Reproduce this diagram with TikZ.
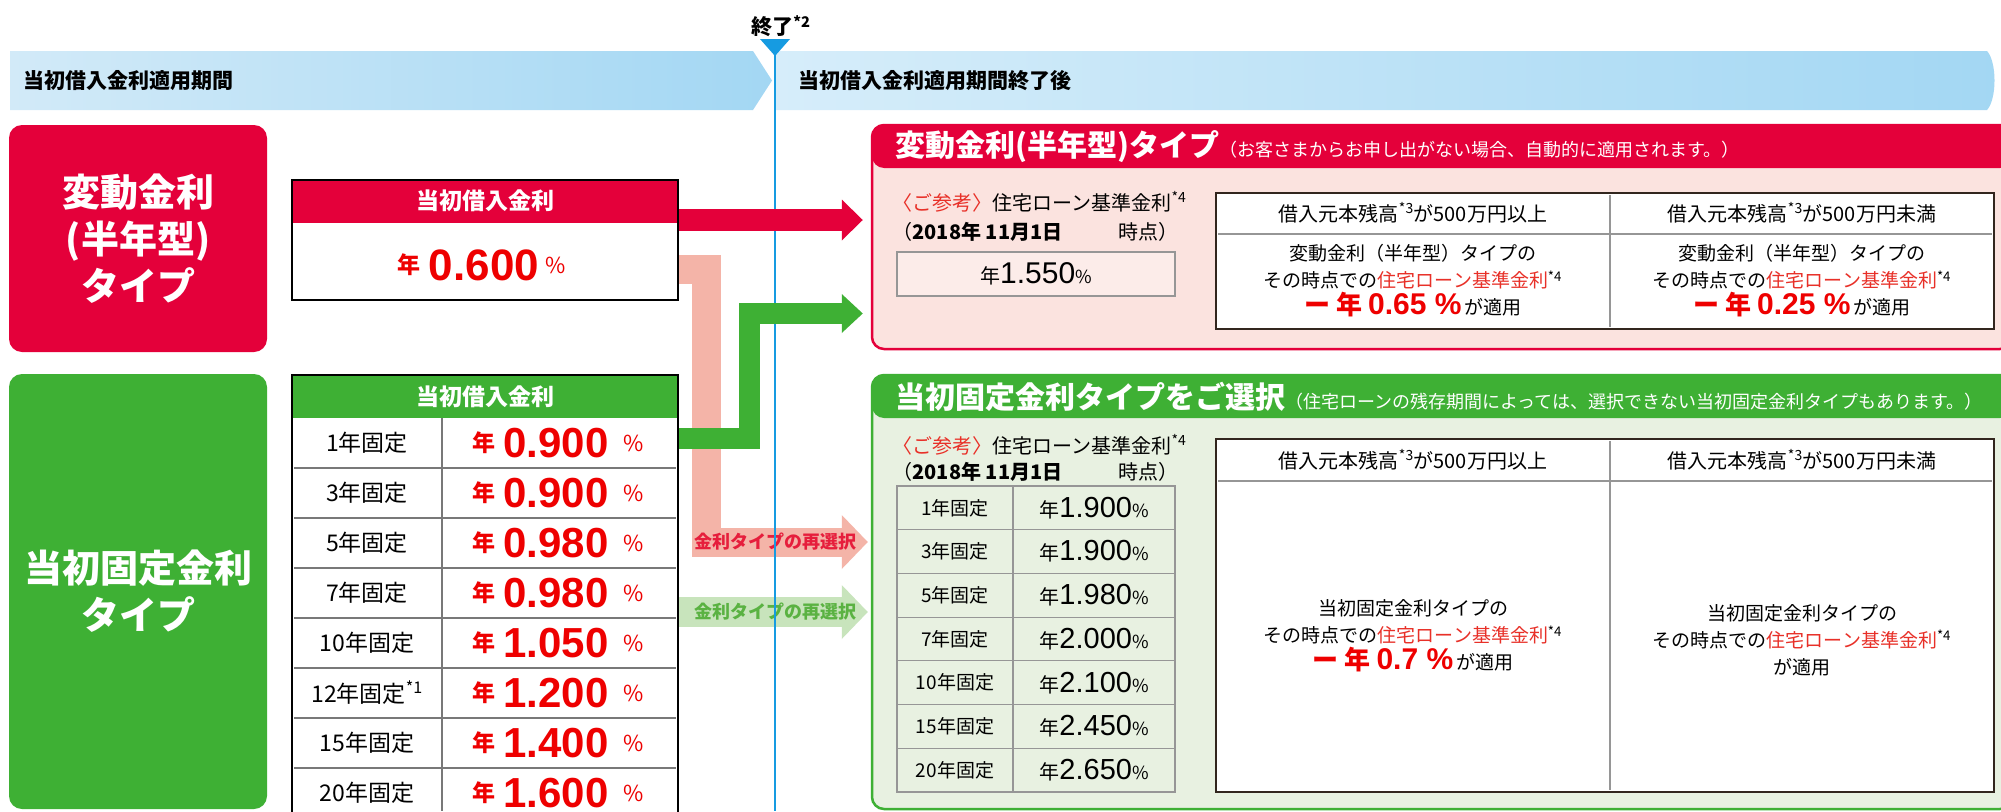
\documentclass[tikz,border=0pt]{standalone}
\usepackage{fontspec}
\setmainfont{Noto Sans CJK JP}
\newfontfamily\numfont{Liberation Sans}
\usetikzlibrary{arrows.meta,positioning}

\definecolor{crim}{RGB}{228,0,58}
\definecolor{vred}{RGB}{238,0,0}
\definecolor{tagred}{RGB}{232,48,40}
\definecolor{leaf}{RGB}{62,176,52}
\definecolor{salmon}{RGB}{244,180,168}
\definecolor{mint}{RGB}{200,228,188}
\definecolor{pinktxt}{RGB}{230,30,60}
\definecolor{minttxt}{RGB}{90,178,66}
\definecolor{skyA}{RGB}{210,234,248}
\definecolor{skyB}{RGB}{163,215,243}
\definecolor{skyC}{RGB}{214,237,250}
\definecolor{skyline}{RGB}{22,155,225}
\definecolor{blush}{RGB}{251,227,223}
\definecolor{blushlite}{RGB}{252,236,233}
\definecolor{sage}{RGB}{232,241,225}
\definecolor{grid}{RGB}{150,150,150}
\definecolor{ink}{RGB}{50,38,30}

\newcommand{\fsz}[1]{\fontsize{#1}{#1}\selectfont}

\tikzset{
  typebox/.style={rounded corners=13pt, inner sep=0pt, text=white, align=center,
    font=\bfseries\fontsize{38}{47}\selectfont},
  ratetbl/.style={draw=black, line width=2.5pt, fill=white, inner sep=0pt,
    path picture={\fill[#1] (path picture bounding box.north west)
      rectangle ([yshift=-43pt]path picture bounding box.north east);}},
  panel/.style 2 args={draw=#1, fill=#2, line width=2.5pt, rounded corners=12pt, inner sep=0pt,
    path picture={\fill[#1] (path picture bounding box.north west)
      rectangle ([yshift=-43pt]path picture bounding box.north east);}},
  thead/.style={text=white, font=\bfseries\fsz{23}},
  cell/.style={font=\fsz{23}},
  nen/.style={text=vred, font=\bfseries\fsz{23}},
  bignum/.style={text=vred, font=\numfont\bfseries\fsz{42}},
  pct/.style={text=vred, font=\fsz{22}},
  rowline/.style={draw=grid!80!black, line width=1.8pt},
  gridln/.style={draw=grid, line width=1.2pt},
  smalltxt/.style={font=\fsz{20}},
  cellbody/.style={font=\fontsize{19}{27}\selectfont, align=center},
  reseltxt/.style={font=\bfseries\fsz{18}},
}

\begin{document}
\begin{tikzpicture}[x=1pt, y=-1pt]
\clip (0,0) rectangle (2001,811);
\fill[white] (0,0) rectangle (2001,811);

% period bands
\shade[left color=skyA, right color=skyB] (10,51) -- (753,51) -- (772,80.5) -- (753,110) -- (10,110) -- cycle;
\shade[left color=skyC, right color=skyB] (776,51) -- (1987,51) .. controls (1997,62) and (1997,99) .. (1987,110) -- (776,110) -- cycle;
\node[anchor=west, font=\bfseries\fsz{21}] (phaseA) at (20,81) {当初借入金利適用期間};
\node[anchor=west, font=\bfseries\fsz{21}] (phaseB) at (795,81) {当初借入金利適用期間終了後};

% left side
\node[typebox, fill=crim, minimum width=258pt, minimum height=227pt] (floattype) at (138,238.5) {変動金利\\(半年型)\\タイプ};
\node[typebox, fill=leaf, minimum width=258pt, minimum height=435pt] (fixtype) at (138,591.5) {当初固定金利\\タイプ};

\node[ratetbl=crim, minimum width=386pt, minimum height=120pt] (ratebox) at (485,240) {};
\node[thead] (ratehead) at (485,201) {当初借入金利};
\node[nen] (ratenen) at (409,265) {年};
\node[bignum, font=\numfont\bfseries\fsz{44}] (rateval) at (484,265) {0.600};
\node[pct] (ratepct) at (556,265) {\%};

\node[ratetbl=leaf, minimum width=386pt, minimum height=438pt] (fixtbl) at (485,594) {};
\node[thead] (fixhead) at (485,397) {当初借入金利};
\draw[rowline] (442,418) -- (442,811);
\foreach \i in {1,...,7} \draw[rowline] (294,{418+50*\i}) -- (676,{418+50*\i});
\foreach \yr/\rt [count=\i] in {1年固定/0.900, 3年固定/0.900, 5年固定/0.980, 7年固定/0.980,
    10年固定/1.050, 12年固定\textsuperscript{*1}/1.200, 15年固定/1.400, 20年固定/1.600}{
  \pgfmathsetmacro\yc{393+50*\i}
  \node[cell] (term\i) at (367,\yc) {\yr};
  \node[nen] (nen\i) at (484,\yc) {年};
  \node[bignum] (rate\i) at (556,\yc) {\rt};
  \node[pct] (pct\i) at (634,\yc) {\%};
}

% right side: floating rate
\node[panel={crim}{blush}, minimum width=1140pt, minimum height=224pt] (floatpanel) at (1442,237) {};
\node[anchor=west, text=white, inner sep=0pt] (floattitle) at (895,147)
  {{\bfseries\fsz{30}変動金利(半年型)タイプ}{\fsz{18}（お客さまからお申し出がない場合、自動的に適用されます。）}};
\node[smalltxt, anchor=west] (floatref) at (889,202) {\textcolor{tagred}{〈ご参考〉}住宅ローン基準金利\textsuperscript{*4}};
\node[smalltxt, anchor=west] (floatdate) at (889,232) {（\textbf{2018年 11月1日}};
\node[smalltxt, anchor=east] (floatat) at (1182,232) {時点）};
\node[draw=grid, line width=1.2pt, fill=blushlite, minimum width=278pt, minimum height=44pt] (floatbase) at (1036,274)
  {{\fsz{20}年}{\numfont\fsz{30}1.550}{\fsz{18}\%}};
\node[draw=ink, line width=2.5pt, fill=white, minimum width=778pt, minimum height=136pt] (floattbl) at (1605,261) {};
\draw[gridln] (1610,195) -- (1610,327);
\draw[gridln] (1218,234) -- (1992,234);
\node[font=\fsz{20}] (floatcolA) at (1413,213) {借入元本残高\textsuperscript{*3}が500万円以上};
\node[font=\fsz{20}] (floatcolB) at (1802,213) {借入元本残高\textsuperscript{*3}が500万円未満};
\node[cellbody] (floatbodyA) at (1413,281) {変動金利（半年型）タイプの\\その時点での\textcolor{tagred}{住宅ローン基準金利}\textsuperscript{*4}\\
  {\color{vred}\bfseries{\fsz{26}ー 年 }{\numfont\fsz{30}0.65 \%}}\,{\fsz{19}が適用}};
\node[cellbody] (floatbodyB) at (1802,281) {変動金利（半年型）タイプの\\その時点での\textcolor{tagred}{住宅ローン基準金利}\textsuperscript{*4}\\
  {\color{vred}\bfseries{\fsz{26}ー 年 }{\numfont\fsz{30}0.25 \%}}\,{\fsz{19}が適用}};

% right side: fixed rate
\node[panel={leaf}{sage}, minimum width=1140pt, minimum height=434pt] (fixpanel) at (1442,592) {};
\node[anchor=west, text=white, inner sep=0pt] (fixtitle) at (895,397)
  {{\bfseries\fsz{30}当初固定金利タイプをご選択}{\fsz{18}（住宅ローンの残存期間によっては、選択できない当初固定金利タイプもあります。）}};
\node[smalltxt, anchor=west] (fixref) at (889,445) {\textcolor{tagred}{〈ご参考〉}住宅ローン基準金利\textsuperscript{*4}};
\node[smalltxt, anchor=west] (fixdate) at (889,472) {（\textbf{2018年 11月1日}};
\node[smalltxt, anchor=east] (fixat) at (1182,472) {時点）};
\node[gridln, minimum width=278pt, minimum height=306pt] (fixbase) at (1036,639) {};
\draw[gridln] (1013,486) -- (1013,792);
\foreach \i in {1,...,6} \draw[gridln] (897,{486+43.714*\i}) -- (1175,{486+43.714*\i});
\foreach \yr/\rt [count=\i] in {1年固定/1.900, 3年固定/1.900, 5年固定/1.980, 7年固定/2.000,
    10年固定/2.100, 15年固定/2.450, 20年固定/2.650}{
  \pgfmathsetmacro\yc{486+43.714*(\i-0.5)}
  \node[font=\fsz{19}] (bterm\i) at (955,\yc) {\yr};
  \node (brate\i) at (1094,\yc) {{\fsz{20}年}{\numfont\fsz{29}\rt}{\fsz{18}\%}};
}
\node[draw=ink, line width=2.5pt, fill=white, minimum width=778pt, minimum height=353pt] (fixtblR) at (1605,615.5) {};
\draw[gridln] (1610,441) -- (1610,790);
\draw[gridln] (1218,481) -- (1992,481);
\node[font=\fsz{20}] (fixcolA) at (1413,460) {借入元本残高\textsuperscript{*3}が500万円以上};
\node[font=\fsz{20}] (fixcolB) at (1802,460) {借入元本残高\textsuperscript{*3}が500万円未満};
\node[cellbody] (fixbodyA) at (1413,636) {当初固定金利タイプの\\その時点での\textcolor{tagred}{住宅ローン基準金利}\textsuperscript{*4}\\
  {\color{vred}\bfseries{\fsz{26}ー 年 }{\numfont\fsz{30}0.7 \%}}\,{\fsz{19}が適用}};
\node[cellbody] (fixbodyB) at (1802,640) {当初固定金利タイプの\\その時点での\textcolor{tagred}{住宅ローン基準金利}\textsuperscript{*4}\\が適用};

% re-selection arrows
\draw[salmon, line width=29pt, -{Triangle[length=26pt,width=54pt,line width=0pt]}, shorten >=3pt]
  ([yshift=-29pt]ratebox.east) -- ++(27,0) |- ([yshift=50pt]fixpanel.west);
\draw[mint, line width=30pt, -{Triangle[length=26pt,width=54pt,line width=0pt]}, shorten >=3pt]
  ([yshift=-18pt]fixtbl.east) -- ([yshift=-20pt]fixpanel.west);
\node[reseltxt, text=pinktxt] (reselA) at (775,542) {金利タイプの再選択};
\node[reseltxt, text=minttxt] (reselB) at (775,612) {金利タイプの再選択};

% end of initial period
\draw[skyline, line width=2.5pt] (775,39) -- (775,811);
\fill[skyline] (760,39) -- (790,39) -- (775,56) -- cycle;
\node[font=\bfseries\fsz{21}] (endmark) at (781,26) {終了\textsuperscript{*2}};

% transfer arrows
\draw[crim, line width=22pt, -{Triangle[length=21pt,width=41pt,line width=0pt]}, shorten >=8pt]
  ([yshift=20pt]ratebox.east) -- ([yshift=17pt]floatpanel.west);
\draw[leaf, line width=21pt, -{Triangle[length=21pt,width=39pt,line width=0pt]}, shorten >=8pt]
  ([yshift=155.5pt]fixtbl.east) -- ++(70,0) |- ([yshift=-76.5pt]floatpanel.west);
\end{tikzpicture}
\end{document}
